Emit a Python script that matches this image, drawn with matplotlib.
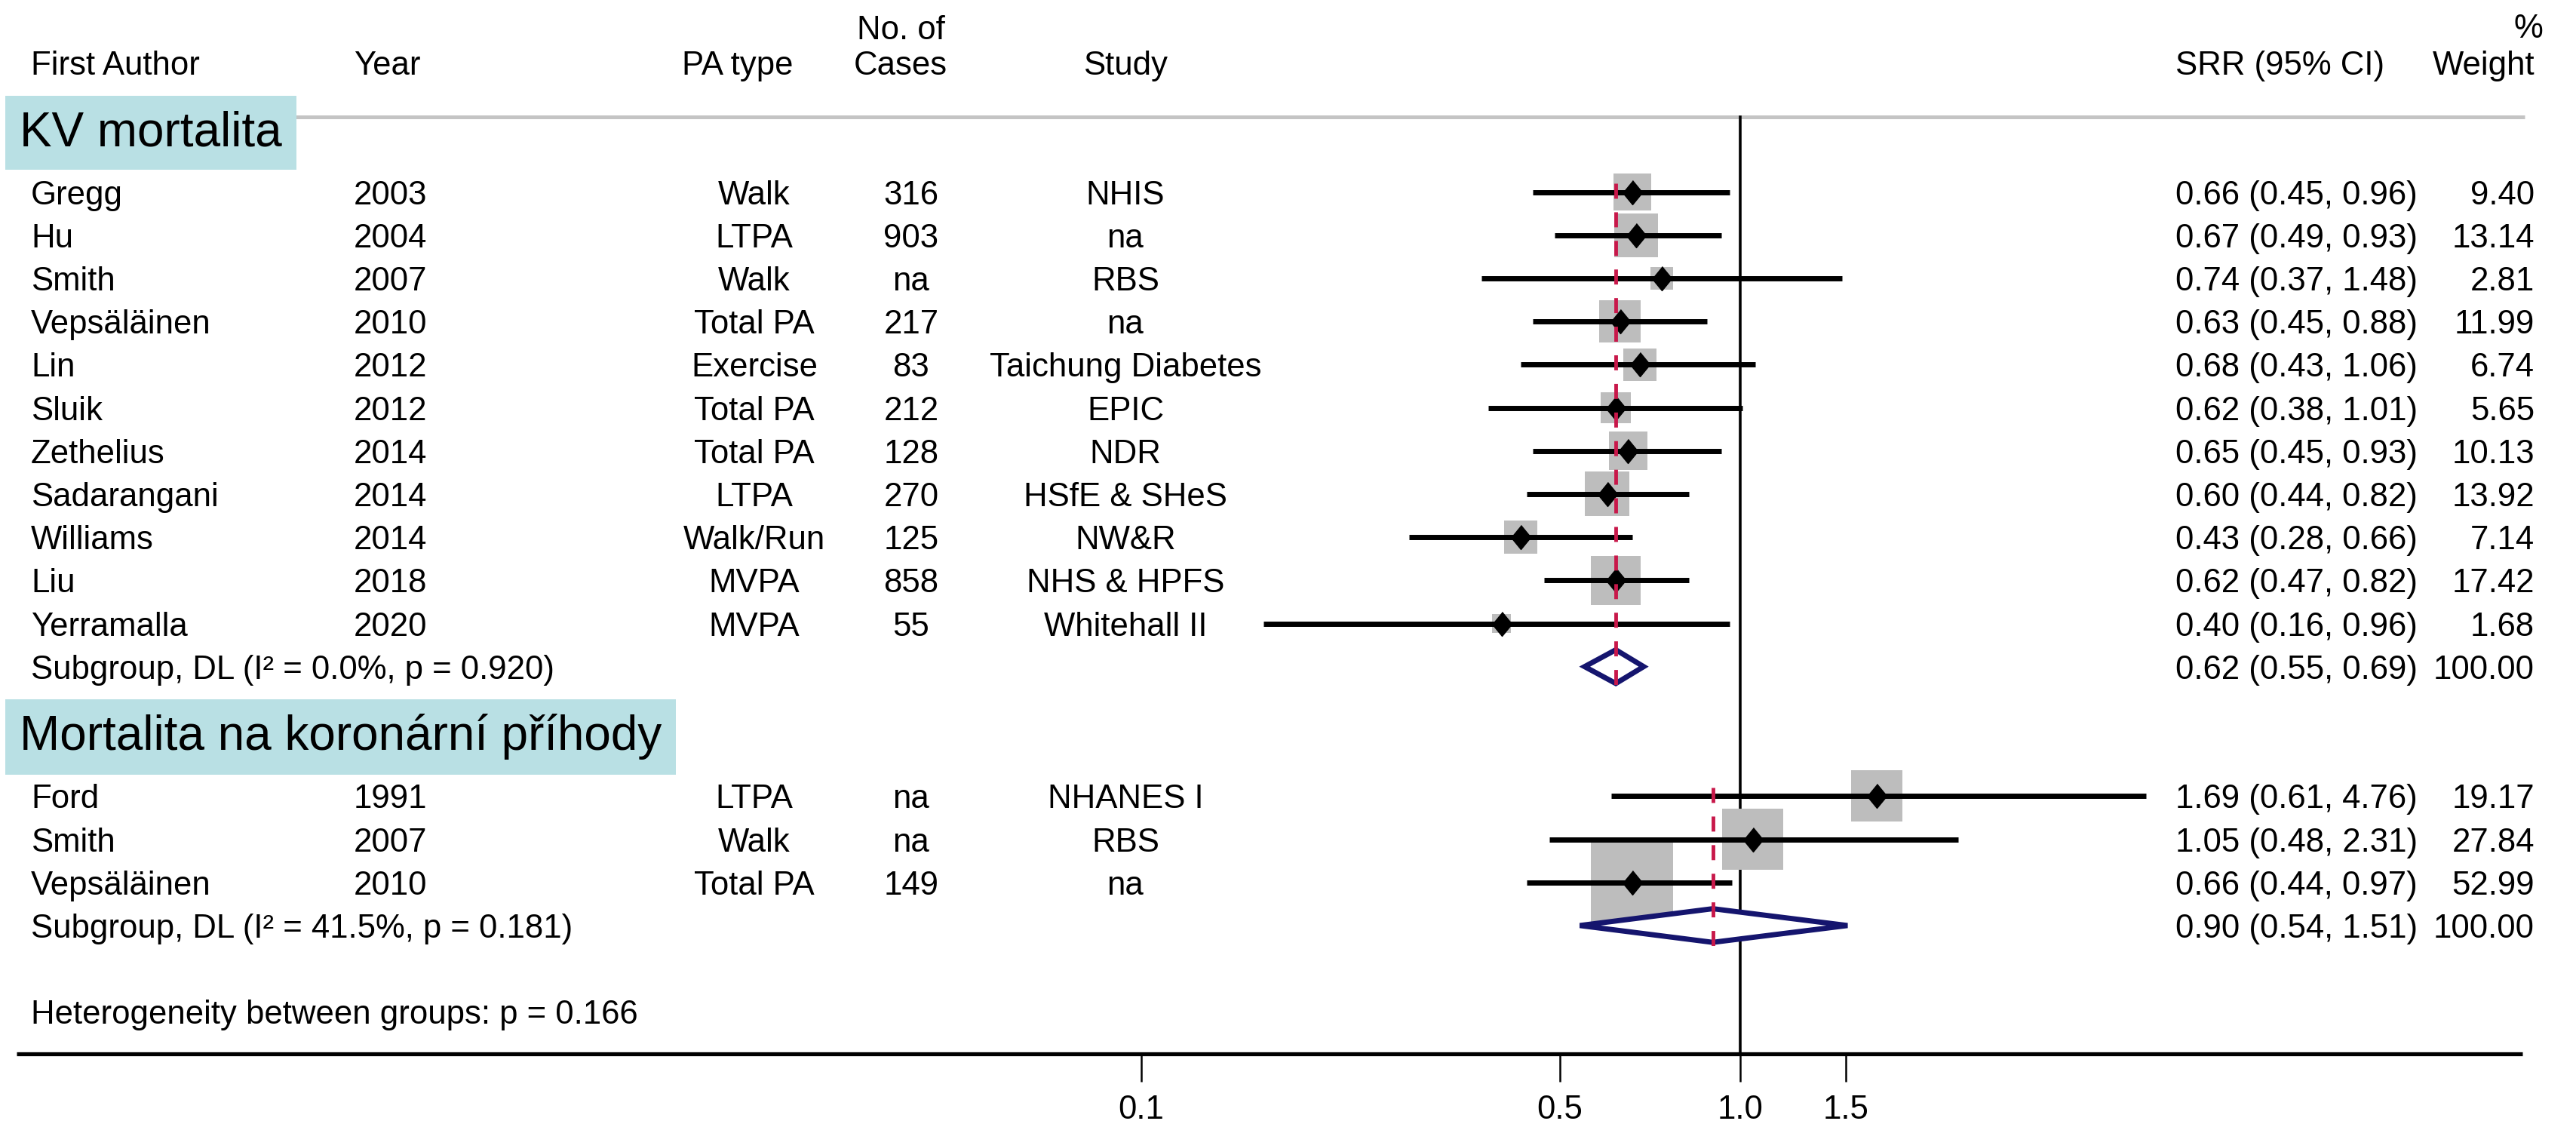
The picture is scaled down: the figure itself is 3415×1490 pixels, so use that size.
import numpy as np
import matplotlib
matplotlib.use("Agg")
import matplotlib.pyplot as plt

plt.rcParams['font.family'] = ['Liberation Sans', 'DejaVu Sans']

# ---- data ----
group_names = ["KV mortalita", "Mortalita na koronární příhody"]

authors1 = ["Gregg", "Hu", "Smith", "Vepsäläinen", "Lin", "Sluik", "Zethelius",
            "Sadarangani", "Williams", "Liu", "Yerramalla"]
years1 = ["2003", "2004", "2007", "2010", "2012", "2012", "2014", "2014", "2014", "2018", "2020"]
patype1 = ["Walk", "LTPA", "Walk", "Total PA", "Exercise", "Total PA", "Total PA",
           "LTPA", "Walk/Run", "MVPA", "MVPA"]
cases1 = ["316", "903", "na", "217", "83", "212", "128", "270", "125", "858", "55"]
study1 = ["NHIS", "na", "RBS", "na", "Taichung Diabetes", "EPIC", "NDR",
          "HSfE & SHeS", "NW&R", "NHS & HPFS", "Whitehall II"]
srr1 = [0.66, 0.67, 0.74, 0.63, 0.68, 0.62, 0.65, 0.60, 0.43, 0.62, 0.40]
lo1 = [0.45, 0.49, 0.37, 0.45, 0.43, 0.38, 0.45, 0.44, 0.28, 0.47, 0.16]
hi1 = [0.96, 0.93, 1.48, 0.88, 1.06, 1.01, 0.93, 0.82, 0.66, 0.82, 0.96]
weight1 = [9.40, 13.14, 2.81, 11.99, 6.74, 5.65, 10.13, 13.92, 7.14, 17.42, 1.68]

authors2 = ["Ford", "Smith", "Vepsäläinen"]
years2 = ["1991", "2007", "2010"]
patype2 = ["LTPA", "Walk", "Total PA"]
cases2 = ["na", "na", "149"]
study2 = ["NHANES I", "RBS", "na"]
srr2 = [1.69, 1.05, 0.66]
lo2 = [0.61, 0.48, 0.44]
hi2 = [4.76, 2.31, 0.97]
weight2 = [19.17, 27.84, 52.99]

# pooled (subgroup) estimates
pooled_srr = [0.62, 0.90]
pooled_lo = [0.55, 0.54]
pooled_hi = [0.69, 1.51]
pooled_i2 = ["0.0%", "41.5%"]
pooled_p = ["0.920", "0.181"]
het_between_p = "0.166"

xticks = [0.1, 0.5, 1.0, 1.5]
xtick_labels = ["0.1", "0.5", "1.0", "1.5"]

groups = [
    dict(name=group_names[0], authors=authors1, years=years1, patype=patype1, cases=cases1,
         study=study1, srr=srr1, lo=lo1, hi=hi1, w=weight1, first_row=0),
    dict(name=group_names[1], authors=authors2, years=years2, patype=patype2, cases=cases2,
         study=study2, srr=srr2, lo=lo2, hi=hi2, w=weight2, first_row=14),
]

# ---- figure / layout ----
W, H = 3416, 1490
dpi = 100
x_one = 2307.0     # pixel column of RR = 1
px_per_ln = 345.0  # pixels per unit of ln(RR)
row0_px, row_px = 254.5, 57.2

fig = plt.figure(figsize=(W / dpi, H / dpi), dpi=dpi)
ax = fig.add_axes([0, 0, 1, 1])
ax.set_xscale('log')
ax.set_xlim(np.exp(-x_one / px_per_ln), np.exp((W - x_one) / px_per_ln))
ax.set_ylim((H - row0_px) / row_px, -row0_px / row_px)
ax.axis('off')

tr = ax.get_yaxis_transform()  # x in axes fraction, y in rows
fs = 31.5
dy = 0.08  # text sits a touch below the row line
col_author = 41 / W
col_year = 469 / W
col_pa = 1000 / W
col_cases = 1208 / W
col_study = 1492 / W
col_srr = 2884 / W
col_weight = 3360 / W

gray_sq = '#bdbdbd'
red = '#c8184a'
navy = '#15156e'
teal = '#b9e0e4'


def txt(x, y, s, **kw):
    ax.text(x, y + dy, s, transform=tr, fontsize=kw.pop('fontsize', fs), va='center', **kw)


# header
txt(col_author, -3.0, "First Author")
txt(col_year, -3.0, "Year")
txt(978 / W, -3.0, "PA type", ha='center')
txt(1194 / W, -3.82, "No. of", ha='center')
txt(1194 / W, -3.0, "Cases", ha='center')
txt(col_study, -3.0, "Study", ha='center')
txt(col_srr, -3.0, "SRR (95% CI)")
txt(3352 / W, -3.85, "%", ha='center')
txt(col_weight, -3.0, "Weight", ha='right')

top_row = (155 - row0_px) / row_px
axis_row = (1397 - row0_px) / row_px
ax.plot([10 / W, 3347 / W], [top_row, top_row], transform=tr, color='#c4c4c4', lw=3.6,
        solid_capstyle='butt', zorder=1)
ax.plot([1.0, 1.0], [top_row, axis_row], color='black', lw=2.6, zorder=1)

for g, i2, p, ps, pl, ph in zip(groups, pooled_i2, pooled_p, pooled_srr, pooled_lo, pooled_hi):
    r0 = g['first_row']
    n = len(g['authors'])
    rows = np.arange(r0, r0 + n)
    sub_row = r0 + n

    ax.text(26 / W, r0 - 1.37, g['name'], transform=tr, fontsize=46, va='center',
            bbox=dict(boxstyle='square,pad=0.3', fc=teal, ec='none'), zorder=6)

    for r, a, y, pa, c, s, e, l, h, w in zip(rows, g['authors'], g['years'], g['patype'],
                                              g['cases'], g['study'], g['srr'], g['lo'],
                                              g['hi'], g['w']):
        txt(col_author, r, a)
        txt(col_year, r, y)
        txt(col_pa, r, pa, ha='center')
        txt(col_cases, r, c, ha='center')
        txt(col_study, r, s, ha='center')
        txt(col_srr, r, f"{e:.2f} ({l:.2f}, {h:.2f})")
        txt(col_weight, r, f"{w:.2f}", ha='right')

    # weight boxes, CI lines and point estimates
    side_px = 6.8 + 14.04 * np.sqrt(np.array(g['w']))
    ax.scatter(g['srr'], rows, s=(side_px * 72 / dpi) ** 2, marker='s', color=gray_sq,
               linewidths=0, zorder=2)
    ax.hlines(rows, g['lo'], g['hi'], color='black', lw=5, zorder=3)
    ax.plot(g['srr'], rows, ls='none', marker=[(0, 1), (0.82, 0), (0, -1), (-0.82, 0)],
            ms=23, color='black', zorder=4)

    # pooled diamond
    ax.fill([pl, ps, ph, ps], [sub_row, sub_row - 0.39, sub_row, sub_row + 0.39],
            facecolor='white', edgecolor=navy, lw=5, zorder=4)
    ax.plot([ps, ps], [r0 - 0.2, sub_row + 0.48], color=red, lw=3.5, dashes=(4.1, 3.7), zorder=5)

    txt(col_author, sub_row, f"Subgroup, DL (I² = {i2}, p = {p})")
    txt(col_srr, sub_row, f"{ps:.2f} ({pl:.2f}, {ph:.2f})")
    txt(col_weight, sub_row, "100.00", ha='right')

txt(col_author, 19, f"Heterogeneity between groups: p = {het_between_p}")

# x axis
ax.plot([22 / W, 3344 / W], [axis_row, axis_row], transform=tr, color='black', lw=3.8,
        solid_capstyle='butt', zorder=1)
ax.vlines(xticks, axis_row, axis_row + 0.65, color='black', lw=1.8)
for t, lab in zip(xticks, xtick_labels):
    ax.text(t, axis_row + 1.3, lab, fontsize=fs, ha='center', va='center')

fig.savefig("out.png", dpi=dpi)
